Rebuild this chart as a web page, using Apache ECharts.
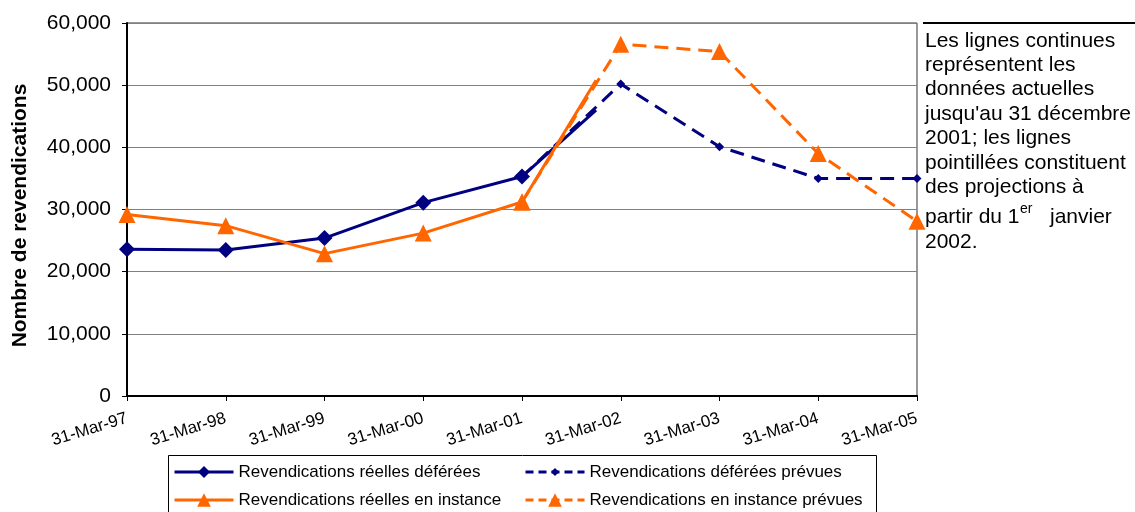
<!DOCTYPE html>
<html><head><meta charset="utf-8">
<script src="https://cdn.jsdelivr.net/npm/echarts@6/dist/echarts.min.js"></script>
<style>html,body{margin:0;padding:0;background:#fff}#c{width:1135px;height:512px}</style>
</head><body><div id="c"></div>
<script>
// ---- data ----
const categories = ['31-Mar-97','31-Mar-98','31-Mar-99','31-Mar-00','31-Mar-01','31-Mar-02','31-Mar-03','31-Mar-04','31-Mar-05'];
const seriesNames = ['Revendications réelles déférées','Revendications déférées prévues','Revendications réelles en instance','Revendications en instance prévues'];
// actual values, 31-Mar-97 .. 31-Mar-01
const deferredActual = [23600, 23500, 25400, 31100, 35300];
const instanceActual = [29200, 27400, 22900, 26200, 31200];
// actual values at 31-Dec-01 (end of actual data)
const dec2001Index = 4.75;
const deferredDec2001 = 46000;
const instanceDec2001 = 50800;
// projections, 31-Mar-01 .. 31-Mar-05
const projStartIndex = 4;
const deferredProjected = [35300, 50200, 40100, 35000, 35000];
const instanceProjected = [31200, 56600, 55400, 39000, 28100];
const noteLines = ['Les lignes continues','représentent les','données actuelles',"jusqu'au 31 décembre",'2001; les lignes','pointillées constituent','des projections à'];
const noteLast = ['partir du 1','er','janvier','2002.'];

const NAVY = '#000080', ORANGE = '#FF6600';
const FONT = '"Liberation Sans", Arial, sans-serif';

function actualData(vals, decVal) {
  const d = vals.map((v, i) => [i, v]);
  d.push({ value: [dec2001Index, decVal], symbol: 'none' });
  return d;
}
function projData(vals) {
  return vals.map((v, i) => [projStartIndex + i, v]);
}

const chart = echarts.init(document.getElementById('c'));
const graphic = [
  { type: 'line', shape: { x1: 923, y1: 23, x2: 1135, y2: 23 }, style: { stroke: '#000', lineWidth: 2 } },
  { type: 'rect', shape: { x: 168.5, y: 455.5, width: 708, height: 70 }, style: { fill: 'none', stroke: '#000', lineWidth: 1 } }
];
const noteY = [41, 65, 89.5, 114, 138, 163, 187];
noteLines.forEach((t, i) => graphic.push({ type: 'text', style: { text: t, x: 925, y: noteY[i], fill: '#000', fontSize: 21, fontFamily: FONT, verticalAlign: 'middle' } }));
graphic.push({ type: 'text', style: { text: noteLast[0], x: 925, y: 217, fill: '#000', fontSize: 21, fontFamily: FONT, verticalAlign: 'middle' } });
graphic.push({ type: 'text', style: { text: noteLast[1], x: 1020, y: 209, fill: '#000', fontSize: 14, fontFamily: FONT, verticalAlign: 'middle' } });
graphic.push({ type: 'text', style: { text: noteLast[2], x: 1050, y: 217, fill: '#000', fontSize: 21, fontFamily: FONT, verticalAlign: 'middle' } });
graphic.push({ type: 'text', style: { text: noteLast[3], x: 925, y: 242, fill: '#000', fontSize: 21, fontFamily: FONT, verticalAlign: 'middle' } });

function mkLegend(name, left, center, h, dashed) {
  return {
    data: [name], left: left, top: center - Math.max(h, 17) / 2, itemWidth: 59, itemHeight: h, padding: 0,
    lineStyle: dashed ? { width: 3, type: [8, 5] } : { width: 3 },
    textStyle: { fontSize: 17, fontFamily: FONT, color: '#000' },
    selectedMode: false
  };
}

chart.setOption({
  animation: false,
  backgroundColor: '#fff',
  textStyle: { fontFamily: FONT },
  grid: { left: 127, right: 218, top: 23, bottom: 116, show: true, borderColor: '#333', borderWidth: 1 },
  legend: [
    mkLegend(seriesNames[0], 173, 472, 15, false),
    mkLegend(seriesNames[2], 173, 500, 17, false),
    mkLegend(seriesNames[1], 524, 472, 10, true),
    mkLegend(seriesNames[3], 524, 500, 17, true)
  ],
  xAxis: {
    type: 'value', min: 0, max: categories.length - 1, interval: 1,
    axisLine: { show: true, onZero: false, lineStyle: { color: '#000', width: 2 } },
    axisTick: { show: true, length: 5, lineStyle: { color: '#000' } },
    splitLine: { show: false },
    axisLabel: { rotate: 17, fontSize: 17, color: '#000', margin: 22, fontFamily: FONT,
      showMinLabel: true, showMaxLabel: true,
      formatter: v => categories[v] || '' }
  },
  yAxis: {
    type: 'value', min: 0, max: 60000, interval: 10000,
    name: 'Nombre de revendications', nameLocation: 'middle', nameRotate: 90, nameGap: 96,
    nameTextStyle: { fontSize: 21, fontWeight: 'bold', color: '#000', fontFamily: FONT, padding: [0, 12, 0, 0] },
    axisLine: { show: true, lineStyle: { color: '#000', width: 2 } },
    axisTick: { show: true, length: 5, lineStyle: { color: '#000' } },
    splitLine: { show: true, lineStyle: { color: '#808080', width: 1 } },
    axisLabel: { fontSize: 21, color: '#000', margin: 16, fontFamily: FONT,
      formatter: v => v.toLocaleString('en-US') }
  },
  graphic: graphic,
  series: [
    { name: seriesNames[0], type: 'line', data: actualData(deferredActual, deferredDec2001),
      symbol: 'diamond', symbolSize: 16, color: NAVY,
      lineStyle: { color: NAVY, width: 3 }, itemStyle: { color: NAVY } },
    { name: seriesNames[1], type: 'line', data: projData(deferredProjected),
      symbol: 'diamond', symbolSize: 9, color: NAVY,
      lineStyle: { color: NAVY, width: 3, type: [14, 8] }, itemStyle: { color: NAVY } },
    { name: seriesNames[2], type: 'line', data: actualData(instanceActual, instanceDec2001),
      symbol: 'triangle', symbolSize: 17, color: ORANGE,
      lineStyle: { color: ORANGE, width: 3 }, itemStyle: { color: ORANGE } },
    { name: seriesNames[3], type: 'line', data: projData(instanceProjected),
      symbol: 'triangle', symbolSize: 17, color: ORANGE,
      lineStyle: { color: ORANGE, width: 3, type: [14, 8] }, itemStyle: { color: ORANGE } }
  ]
});
</script>
</body></html>
